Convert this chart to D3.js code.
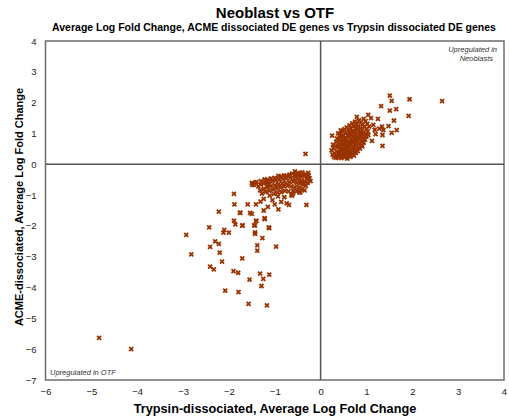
<!DOCTYPE html>
<html>
<head>
<meta charset="utf-8">
<script src="https://cdn.jsdelivr.net/npm/d3@7"></script>
<style>
  body { margin: 0; background: #fff; }
  text { font-family: "Liberation Sans", Arial, sans-serif; }
</style>
</head>
<body>
<svg id="chart"></svg>
<script>
var size = {width: 509, height: 419}
var plot = {left: 45.5, right: 504, top: 41, bottom: 380}

// tick values on both axes
var xTicks = [-6, -5, -4, -3, -2, -1, 0, 1, 2, 3, 4]
var yTicks = [4, 3, 2, 1, 0, -1, -2, -3, -4, -5, -6, -7]

// genes upregulated in neoblasts (trypsin lfc, acme lfc)
var neoblastGenes = [
  [0.26,0.31],[0.29,0.24],[0.33,0.21],[0.31,0.36],[0.24,0.45],[0.28,0.52],[0.35,0.28],[0.38,0.22],[0.41,0.27],[0.45,0.2],
  [0.48,0.25],[0.52,0.23],[0.36,0.41],[0.32,0.6],[0.27,0.64],[0.39,0.35],[0.43,0.38],[0.47,0.31],[0.51,0.34],[0.55,0.29],
  [0.58,0.26],[0.34,0.73],[0.37,0.55],[0.41,0.48],[0.44,0.57],[0.46,0.44],[0.5,0.47],[0.53,0.41],[0.57,0.38],[0.6,0.33],
  [0.63,0.3],[0.36,0.84],[0.4,0.66],[0.42,0.79],[0.45,0.7],[0.48,0.62],[0.52,0.56],[0.55,0.52],[0.59,0.46],[0.62,0.42],
  [0.66,0.37],[0.69,0.33],[0.41,0.92],[0.44,0.98],[0.47,0.86],[0.5,0.75],[0.53,0.69],[0.56,0.63],[0.6,0.58],[0.63,0.54],
  [0.67,0.49],[0.7,0.44],[0.74,0.4],[0.77,0.37],[0.47,1.08],[0.5,0.94],[0.54,0.85],[0.57,0.79],[0.6,0.72],[0.64,0.67],
  [0.67,0.61],[0.71,0.56],[0.74,0.52],[0.78,0.47],[0.81,0.43],[0.52,1.14],[0.55,1.02],[0.58,0.93],[0.62,0.88],[0.65,0.81],
  [0.68,0.76],[0.72,0.7],[0.75,0.65],[0.79,0.6],[0.83,0.55],[0.86,0.51],[0.57,1.2],[0.61,1.1],[0.64,1.0],[0.67,0.95],
  [0.7,0.89],[0.73,0.83],[0.77,0.78],[0.8,0.72],[0.84,0.68],[0.88,0.62],[0.91,0.58],[0.63,1.26],[0.66,1.17],[0.7,1.08],
  [0.73,1.02],[0.76,0.96],[0.79,0.9],[0.82,0.85],[0.86,0.8],[0.9,0.74],[0.94,0.7],[0.69,1.33],[0.72,1.24],[0.76,1.15],
  [0.79,1.09],[0.82,1.03],[0.85,0.97],[0.89,0.92],[0.93,0.86],[0.97,0.8],[1.0,0.9],[0.75,1.38],[0.79,1.3],[0.83,1.22],
  [0.87,1.16],[0.9,1.1],[0.94,1.04],[0.98,0.98],[1.04,0.95],[0.84,1.42],[0.88,1.35],[0.92,1.28],[0.96,1.21],[1.0,1.14],
  [1.03,1.07],[0.94,1.47],[0.98,1.4],[1.02,1.31],[1.06,1.22],[0.58,0.18],[0.65,0.24],[0.73,0.28],[0.48,0.52],[0.38,1.0],
  [0.55,0.6],[0.62,0.65],[0.7,0.72],[0.78,0.85],[0.86,0.98],[0.6,0.95],[0.68,1.05],[0.8,1.18],[0.45,0.82],[0.9,1.0],
  // scattered ones
  [2.65,2.05],[1.94,2.11],[1.51,2.23],[1.55,2.06],[1.32,1.89],[1.65,1.79],[1.51,1.74],[1.92,1.57],[1.6,1.42],[0.79,1.54],
  [1.04,1.6],[1.1,1.5],[1.25,1.47],[1.15,1.28],[1.48,1.24],[1.34,1.22],[1.37,1.11],[1.66,1.11],[1.55,1.02],[1.35,0.95],
  [1.18,1.12],[1.12,0.76],[1.35,0.6],[0.25,0.93],[0.44,1.1],[1.28,1.16],[1.2,0.98]
]

// genes upregulated in OTF
var otfGenes = [
  [-0.56,-0.23],[-0.5,-0.28],[-0.45,-0.3],[-0.4,-0.26],[-0.32,-0.32],[-0.26,-0.36],[-0.24,-0.45],[-0.22,-0.55],[-0.3,-0.42],[-0.36,-0.38],
  [-0.42,-0.4],[-0.48,-0.36],[-0.55,-0.34],[-0.62,-0.3],[-0.68,-0.34],[-0.74,-0.38],[-0.8,-0.36],[-0.86,-0.4],[-0.92,-0.38],[-1.0,-0.44],
  [-1.08,-0.46],[-1.16,-0.5],[-1.22,-0.49],[-1.3,-0.55],[-1.4,-0.58],[-1.5,-0.6],[-1.46,-0.67],[-1.41,-0.59],[-1.36,-0.72],[-1.3,-0.66],
  [-1.24,-0.62],[-1.18,-0.6],[-1.12,-0.56],[-1.05,-0.55],[-0.98,-0.52],[-0.9,-0.5],[-0.82,-0.48],[-0.75,-0.46],[-0.66,-0.44],[-0.58,-0.45],
  [-0.5,-0.48],[-0.42,-0.52],[-0.35,-0.55],[-0.28,-0.6],[-0.32,-0.7],[-0.38,-0.66],[-0.45,-0.62],[-0.52,-0.6],[-0.6,-0.56],[-0.68,-0.58],
  [-0.76,-0.6],[-0.84,-0.62],[-0.92,-0.64],[-1.0,-0.68],[-1.08,-0.7],[-1.16,-0.74],[-1.24,-0.8],[-1.32,-0.85],[-1.28,-0.95],[-1.2,-0.9],
  [-1.12,-0.86],[-1.04,-0.82],[-0.96,-0.78],[-0.88,-0.76],[-0.8,-0.72],[-0.72,-0.7],[-0.64,-0.72],[-0.56,-0.74],[-0.48,-0.76],[-0.4,-0.8],
  [-0.35,-0.85],[-0.44,-0.9],[-0.52,-0.88],[-0.6,-0.86],[-0.7,-0.88],[-0.78,-0.86],[-0.86,-0.9],[-0.94,-0.92],[-1.02,-0.96],
  [-1.11,-1.02],[-1.24,-1.12],[-1.05,-1.16],[-0.93,-1.04],[-0.79,-1.07],[-0.62,-1.02],[-0.86,-1.22],[-1.0,-1.3],[-1.15,-1.38],[-0.74,-1.27],
  [-1.31,-1.21],[-0.3,-0.48],[-0.27,-0.28],[-0.38,-0.6],[-0.6,-0.95],[-1.15,-0.66],[-0.33,0.34],
  // scattered ones
  [-0.31,-1.32],[-0.69,-1.32],[-0.46,-0.92],[-0.64,-0.99],[-0.92,-1.46],[-1.41,-1.3],[-1.24,-1.5],[-1.22,-1.78],[-1.4,-1.84],[-1.45,-1.98],
  [-1.12,-2.07],[-1.89,-0.96],[-1.88,-1.3],[-1.59,-1.3],[-2.22,-1.54],[-1.76,-1.58],[-1.54,-1.58],[-1.5,-1.61],[-1.89,-1.83],[-1.86,-1.95],
  [-1.71,-1.99],[-2.43,-2.05],[-2.1,-2.13],[-2.12,-2.22],[-2.0,-2.22],[-2.93,-2.29],[-2.3,-2.5],[-2.22,-2.58],[-2.41,-2.68],[-2.2,-2.87],
  [-2.82,-2.92],[-1.71,-3.05],[-1.43,-2.26],[-1.38,-2.63],[-1.38,-2.8],[-2.41,-3.32],[-2.33,-3.41],[-2.15,-3.16],[-1.9,-3.47],[-1.8,-3.52],
  [-1.55,-3.74],[-1.32,-3.55],[-1.25,-3.72],[-1.12,-3.58],[-1.29,-3.95],[-2.08,-4.1],[-1.79,-4.15],[-1.57,-4.53],[-1.17,-4.58],[-0.97,-2.67],
  [-1.13,-2.05],[-1.27,-2.4],[-1.43,-2.21],[-1.43,-1.98],[-1.41,-1.84],[-1.22,-1.75],[-1.7,-1.98],[-1.75,-1.57],[-1.49,-0.67],[-1.46,-0.62],
  [-4.83,-5.63],[-4.13,-6.0]
]

var allGenes = neoblastGenes.concat(otfGenes)

var svg = d3.select("#chart")
    .attr("width", size.width)
    .attr("height", size.height)

var xScale = d3.scaleLinear()
    .domain([-6, 4])
    .range([plot.left, plot.right])

var yScale = d3.scaleLinear()
    .domain([-7, 4])
    .range([plot.bottom, plot.top])

//axes: labels only, no tick marks, frame drawn by hand below
var xAxis = d3.axisBottom(xScale).tickValues(xTicks).tickSize(0).tickPadding(8)
var yAxis = d3.axisLeft(yScale).tickValues(yTicks).tickSize(0).tickPadding(9)

svg.append("g")
    .attr("transform", "translate(0," + plot.bottom + ")")
    .call(xAxis)
    .call(function(g){ g.select(".domain").remove() })
    .selectAll("text")
    .attr("font-size", 9.5)
    .attr("fill", "#222")

svg.append("g")
    .attr("transform", "translate(" + plot.left + ",0)")
    .call(yAxis)
    .call(function(g){ g.select(".domain").remove() })
    .selectAll("text")
    .attr("font-size", 9.5)
    .attr("fill", "#222")

// plot frame
svg.append("rect")
    .attr("x", plot.left)
    .attr("y", plot.top)
    .attr("width", plot.right - plot.left)
    .attr("height", plot.bottom - plot.top)
    .attr("fill", "none")
    .attr("stroke", "#6e6e6e")
    .attr("stroke-width", 1.5)

// zero lines
svg.append("line")
    .attr("x1", xScale(0)).attr("x2", xScale(0))
    .attr("y1", plot.top).attr("y2", plot.bottom)
    .attr("stroke", "#555").attr("stroke-width", 1.5)
svg.append("line")
    .attr("x1", plot.left).attr("x2", plot.right)
    .attr("y1", yScale(0)).attr("y2", yScale(0))
    .attr("stroke", "#555").attr("stroke-width", 1.5)

// x markers
svg.append("g")
    .selectAll("path")
    .data(allGenes)
    .enter()
    .append("path")
    .attr("transform", function(d){ return "translate(" + xScale(d[0]) + "," + yScale(d[1]) + ")" })
    .attr("d", "M-2,-2L2,2M-2,2L2,-2")
    .attr("stroke", "#993300")
    .attr("stroke-width", 1.8)
    .attr("fill", "none")

// titles
svg.append("text")
    .attr("x", 275).attr("y", 18)
    .attr("text-anchor", "middle")
    .attr("font-size", 15).attr("font-weight", "bold")
    .text("Neoblast vs OTF")

svg.append("text")
    .attr("x", 274).attr("y", 31)
    .attr("text-anchor", "middle")
    .attr("font-size", 10.5).attr("font-weight", "bold")
    .text("Average Log Fold Change, ACME dissociated DE genes vs Trypsin dissociated DE genes")

svg.append("text")
    .attr("x", 275).attr("y", 413)
    .attr("text-anchor", "middle")
    .attr("font-size", 12.7).attr("font-weight", "bold")
    .text("Trypsin-dissociated, Average Log Fold Change")

svg.append("text")
    .attr("transform", "translate(23,207) rotate(-90)")
    .attr("text-anchor", "middle")
    .attr("font-size", 11).attr("font-weight", "bold")
    .text("ACME-dissociated, Average Log Fold Change")

// quadrant notes
svg.append("text")
    .attr("x", 497).attr("y", 52)
    .attr("text-anchor", "end")
    .attr("font-size", 7.5).attr("font-style", "italic").attr("fill", "#333")
    .text("Upregulated in")
svg.append("text")
    .attr("x", 493).attr("y", 61)
    .attr("text-anchor", "end")
    .attr("font-size", 7.5).attr("font-style", "italic").attr("fill", "#333")
    .text("Neoblasts")
svg.append("text")
    .attr("x", 50).attr("y", 375)
    .attr("text-anchor", "start")
    .attr("font-size", 7.5).attr("font-style", "italic").attr("fill", "#333")
    .text("Upregulated in OTF")
</script>
</body>
</html>
